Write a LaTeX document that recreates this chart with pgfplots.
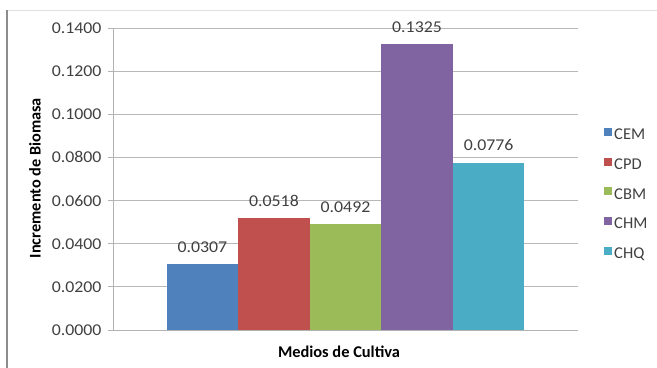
\documentclass[border=0pt]{standalone}
\usepackage{pgfplots}
\pgfplotsset{compat=1.18}
\usepackage{fontspec}
\setmainfont{Carlito}
\newfontfamily\numfont{Carlito}[FakeStretch=1.08]

\definecolor{cem}{HTML}{4F81BD}
\definecolor{cpd}{HTML}{C0504D}
\definecolor{cbm}{HTML}{9BBB59}
\definecolor{chm}{HTML}{8064A2}
\definecolor{chq}{HTML}{4BACC6}
\definecolor{txt}{HTML}{404040}

\newcommand{\lblfont}{\fontsize{16.5bp}{18bp}\selectfont}
\newcommand{\numlblfont}{\numfont\fontsize{16.5bp}{18bp}\selectfont}

\begin{document}
\begin{tikzpicture}
\useasboundingbox (0,0) rectangle (657bp,368bp);
% chart frame
\draw[black!12, line width=0.8bp] (7bp,358bp) -- (657bp,358bp);
\draw[black!45, line width=1.2bp] (7bp,358bp) -- (7bp,0bp);

\begin{axis}[
  at={(113bp,38bp)}, anchor=south west,
  scale only axis,
  width=465bp, height=302bp,
  xmin=-1.25, xmax=5.25,
  ymin=0, ymax=0.14,
  ytick distance=0.02,
  xtick=\empty,
  axis x line*=bottom,
  axis y line*=left,
  axis line style={black!30, line width=0.8bp, -},
  ymajorgrids,
  grid style={black!28, line width=0.8bp},
  tick style={black!30, line width=0.8bp},
  major tick length=5bp,
  tick pos=left,
  tick align=outside,
  /pgf/number format/.cd, fixed, fixed zerofill, precision=4, assume math mode=true,
  /pgfplots/.cd,
  yticklabel style={font=\numlblfont, text=txt, xshift=-3bp},
  ybar, bar width=1, bar shift=0pt,
  nodes near coords,
  nodes near coords style={font=\numlblfont, text=txt, yshift=8bp,
    /pgf/number format/.cd, fixed, fixed zerofill, precision=4},
  ylabel={\bfseries\fontsize{16.3bp}{18bp}\selectfont Incremento de Biomasa},
  ylabel style={at={(axis description cs:-0.168,0.503)}, anchor=center},
  xlabel={\bfseries\fontsize{16.4bp}{18bp}\selectfont Medios de Cultiva},
  xlabel style={at={(axis description cs:0.486,-0.073)}, anchor=center},
  legend style={at={(1.056,0.673)}, anchor=north west, draw=none, fill=none,
    font=\lblfont, text=txt, row sep=13.5bp, inner sep=0pt,
    /tikz/every even column/.append style={column sep=3bp}},
  legend cell align=left,
  legend image code/.code={\fill[#1] (0bp,-1bp) rectangle (8bp,7bp);},
]
\addplot[fill=cem, draw=none] coordinates {(0,0.0307)};
\addplot[fill=cpd, draw=none] coordinates {(1,0.0518)};
\addplot[fill=cbm, draw=none] coordinates {(2,0.0492)};
\addplot[fill=chm, draw=none] coordinates {(3,0.1325)};
\addplot[fill=chq, draw=none] coordinates {(4,0.0776)};
\legend{CEM,CPD,CBM,CHM,CHQ}
\end{axis}
\end{tikzpicture}
\end{document}
